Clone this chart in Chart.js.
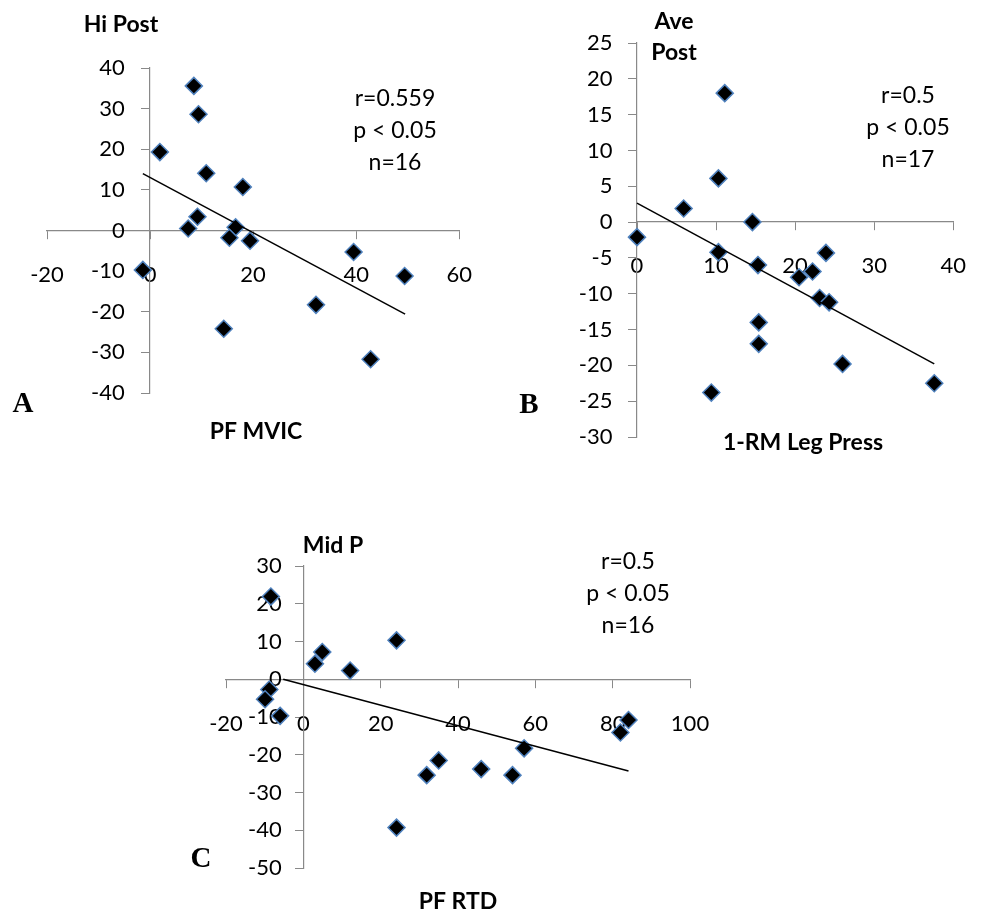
<!DOCTYPE html>
<html>
<head>
<meta charset="utf-8">
<script src="https://cdn.jsdelivr.net/npm/chart.js@4"></script>
<style>
  html, body { margin: 0; padding: 0; background: #fff; }
  body { width: 989px; height: 913px; position: relative; overflow: hidden; }
  .box { position: absolute; }
</style>
</head>
<body>
<div class="box" style="left:0;top:0;"><canvas id="cA" width="495" height="460"></canvas></div>
<div class="box" style="left:495px;top:0;"><canvas id="cB" width="494" height="460"></canvas></div>
<div class="box" style="left:0;top:460px;"><canvas id="cC" width="989" height="453"></canvas></div>
<script>
// ---- Panel A: Hi Post vs PF MVIC ----
const aX = [8.5, 9.4, 1.9, 10.9, 18.0, 9.2, 7.4, 16.6, 15.4, 19.4, -1.4, 39.5, 49.4, 32.2, 14.3, 42.8];
const aY = [35.6, 28.6, 19.3, 14.1, 10.7, 3.4, 0.5, 0.8, -1.8, -2.5, -9.7, -5.3, -11.2, -18.3, -24.2, -31.7];
const aTrendX = [-1.4, 49.5];
const aTrendY = [14.0, -20.6];
const aStats = ["r=0.559", "p < 0.05", "n=16"];

// ---- Panel B: Ave Post vs 1-RM Leg Press ----
const bX = [0, 5.9, 10.3, 11.1, 14.6, 10.3, 15.3, 20.5, 22.2, 23.9, 23.1, 24.3, 15.4, 15.4, 26.0, 9.4, 37.6];
const bY = [-2.1, 1.9, 6.1, 18.0, 0, -4.2, -6.0, -7.7, -6.9, -4.3, -10.6, -11.2, -14.0, -17.0, -19.8, -23.8, -22.5];
const bTrendX = [0, 37.6];
const bTrendY = [2.65, -19.8];
const bStats = ["r=0.5", "p < 0.05", "n=17"];

// ---- Panel C: Mid P vs PF RTD ----
const cX = [-8.4, -8.8, -9.9, -6.0, 3.0, 4.9, 12.1, 24.1, 24.1, 31.9, 35.0, 46.0, 54.1, 57.1, 82.0, 84.1];
const cY = [21.9, -2.7, -5.3, -9.7, 4.1, 7.2, 2.3, 10.3, -39.3, -25.4, -21.5, -23.8, -25.4, -18.3, -14.1, -10.8];
const cTrendX = [-5.2, 84.1];
const cTrendY = [0.0, -24.3];
const cStats = ["r=0.5", "p < 0.05", "n=16"];

const AXIS = '#898989';
const TICK_FONT = { family: 'Lato', size: 22 };
const STAT_FONT = '23px Lato';
const TITLE_FONT = 'bold 23px Lato';
const PANEL_FONT = 'bold 29px "Liberation Serif"';

const pts = (xs, ys) => xs.map((x, i) => ({ x: x, y: ys[i] }));

const textPlugin = {
  id: 'texts',
  afterDraw(chart, args, opts) {
    const ctx = chart.ctx;
    (opts.items || []).forEach(it => {
      ctx.save();
      ctx.font = it.font;
      ctx.fillStyle = '#000';
      ctx.textAlign = 'center';
      ctx.textBaseline = 'middle';
      ctx.fillText(it.text, it.x, it.y);
      ctx.restore();
    });
  }
};

function makeChart(id, cfg) {
  const gridOpts = { drawOnChartArea: false, drawTicks: true, tickLength: 8, color: AXIS, tickWidth: 1 };
  return new Chart(document.getElementById(id), {
    type: 'scatter',
    data: {
      datasets: [
        {
          type: 'line',
          data: pts(cfg.tx, cfg.ty),
          borderColor: '#000', borderWidth: 1.5,
          pointRadius: 0, fill: false, tension: 0
        },
        {
          data: pts(cfg.x, cfg.y),
          pointStyle: 'rectRot',
          pointRadius: 8.5,
          pointBackgroundColor: '#000',
          pointBorderColor: '#4f81bd',
          pointBorderWidth: 1.5
        }
      ]
    },
    options: {
      responsive: false,
      animation: false,
      clip: false,
      layout: { padding: cfg.padding },
      plugins: {
        legend: { display: false },
        tooltip: { enabled: false },
        texts: { items: cfg.texts }
      },
      scales: {
        x: {
          type: 'linear', min: cfg.xr[0], max: cfg.xr[1], position: { y: 0 },
          ticks: { stepSize: cfg.xr[2], font: TICK_FONT, color: '#000', padding: 23 },
          grid: gridOpts,
          border: { color: AXIS, width: 1.2 },
          afterFit: s => { s.height = 0; }
        },
        y: {
          type: 'linear', min: cfg.yr[0], max: cfg.yr[1], position: { x: 0 },
          ticks: { stepSize: cfg.yr[2], display: false },
          grid: gridOpts,
          border: { color: AXIS, width: 1.2 },
          afterFit: s => { s.width = 0; }
        },
        yLabels: {
          type: 'linear', axis: 'y', min: cfg.yr[0], max: cfg.yr[1], position: { x: cfg.yLabelAt },
          ticks: { stepSize: cfg.yr[2], font: TICK_FONT, color: '#000' },
          grid: { display: false },
          border: { display: false },
          afterFit: s => { s.width = 0; }
        }
      }
    },
    plugins: [textPlugin]
  });
}

function statItems(lines, cx, y0, dy) {
  return lines.map((t, i) => ({ text: t, x: cx, y: y0 + i * dy, font: STAT_FONT }));
}

makeChart('cA', {
  x: aX, y: aY, tx: aTrendX, ty: aTrendY,
  xr: [-20, 60, 20], yr: [-40, 40, 10], yLabelAt: -4.9,
  padding: { left: 47, right: 29, top: 68, bottom: 67 },
  texts: [
    { text: 'Hi Post', x: 121, y: 25, font: TITLE_FONT },
    { text: 'PF MVIC', x: 256, y: 432, font: TITLE_FONT },
    { text: 'A', x: 23, y: 405, font: PANEL_FONT }
  ].concat(statItems(aStats, 395, 99, 32))
});

makeChart('cB', {
  x: bX, y: bY, tx: bTrendX, ty: bTrendY,
  xr: [0, 40, 10], yr: [-30, 25, 5], yLabelAt: -3.1,
  padding: { left: 142, right: 20, top: 43, bottom: 23 },
  texts: [
    { text: 'Ave', x: 179, y: 22, font: TITLE_FONT },
    { text: 'Post', x: 179, y: 53, font: TITLE_FONT },
    { text: '1-RM Leg Press', x: 308, y: 443, font: TITLE_FONT },
    { text: 'B', x: 34, y: 406, font: PANEL_FONT }
  ].concat(statItems(bStats, 413, 96, 32))
});

makeChart('cC', {
  x: cX, y: cY, tx: cTrendX, ty: cTrendY,
  xr: [-20, 100, 20], yr: [-50, 30, 10], yLabelAt: -5.6,
  padding: { left: 226, right: 299, top: 106, bottom: 45 },
  texts: [
    { text: 'Mid P', x: 333, y: 86, font: TITLE_FONT },
    { text: 'PF RTD', x: 458, y: 442, font: TITLE_FONT },
    { text: 'C', x: 201, y: 400, font: PANEL_FONT }
  ].concat(statItems(cStats, 628, 102, 32))
});
</script>
</body>
</html>
